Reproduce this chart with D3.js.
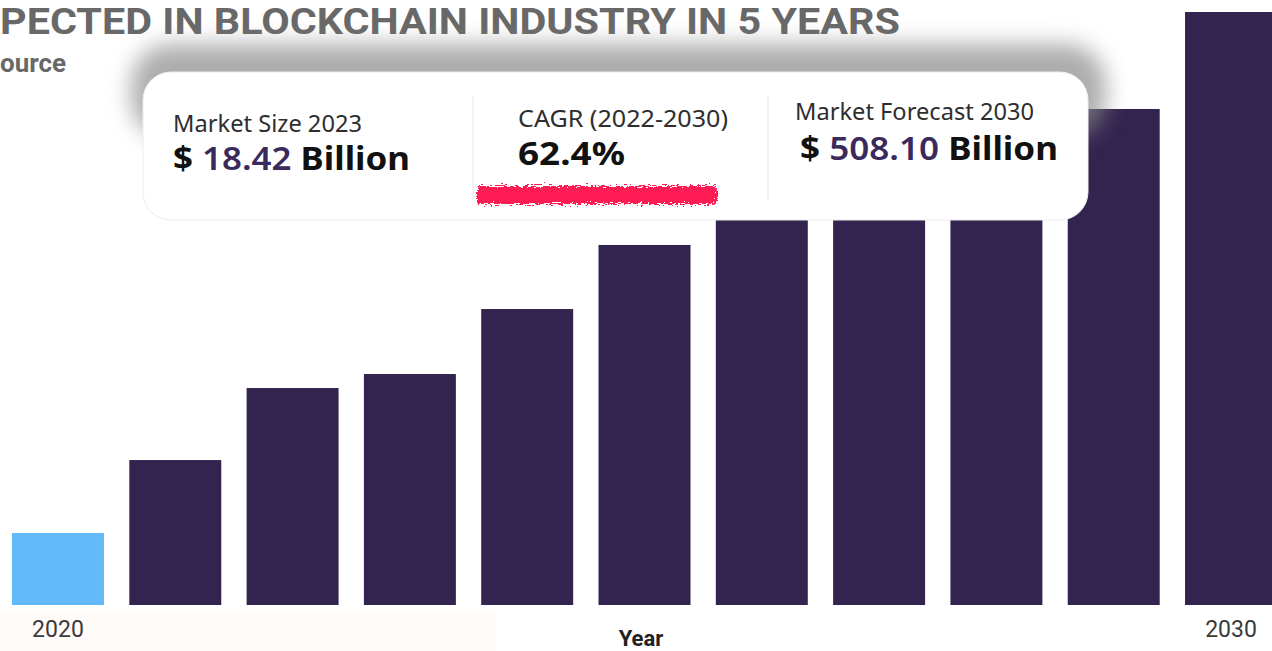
<!DOCTYPE html>
<html>
<head>
<meta charset="utf-8">
<script src="https://cdn.jsdelivr.net/npm/d3@7"></script>
<style>
  body { margin: 0; background: #ffffff; overflow: hidden; }
  svg { display: block; }
</style>
</head>
<body>
<svg id="chart" width="1272" height="651"></svg>
<script>
// years on the x axis
const years = [2020, 2021, 2022, 2023, 2024, 2025, 2026, 2027, 2028, 2029, 2030];
// market size, billions (2030 = forecast)
const marketSize = [61.7, 124.2, 185.9, 197.9, 253.6, 308.5, 355.6, 377.0, 398.4, 425.0, 508.1];
const shownTicks = [2020, 2030];

// numbers in the summary card
const cardLabels = ['Market Size 2023', 'CAGR (2022-2030)', 'Market Forecast 2030'];
const cardValues = ['18.42', '62.4%', '508.10'];

const svg = d3.select('#chart');
const plotBottom = 605, plotTop = 12;

const defs = svg.append('defs');

// blurred shadow behind card
defs.append('filter')
    .attr('id', 'cardShadow')
    .attr('x', '-20%').attr('y', '-80%')
    .attr('width', '140%').attr('height', '260%')
    .append('feGaussianBlur')
    .attr('stdDeviation', 11);

// rough marker-pen look for the red underline
const rough = defs.append('filter')
    .attr('id', 'rough')
    .attr('x', '-5%').attr('y', '-60%')
    .attr('width', '110%').attr('height', '220%');
rough.append('feTurbulence')
    .attr('type', 'fractalNoise')
    .attr('baseFrequency', '0.3 1.1')
    .attr('numOctaves', 2)
    .attr('seed', 3)
    .attr('result', 'noise');
rough.append('feDisplacementMap')
    .attr('in', 'SourceGraphic')
    .attr('in2', 'noise')
    .attr('scale', 10)
    .attr('xChannelSelector', 'R')
    .attr('yChannelSelector', 'G');

// faint warm tint at bottom left
svg.append('rect')
    .attr('x', 0).attr('y', 612)
    .attr('width', 495).attr('height', 39)
    .attr('fill', '#fefbf9');

// Title (cropped at the left edge)
svg.append('text')
    .attr('x', 0)
    .attr('y', 34)
    .attr('textLength', 900)
    .attr('lengthAdjust', 'spacingAndGlyphs')
    .style('font-family', 'Roboto')
    .style('font-weight', 'bold')
    .style('font-size', '36px')
    .attr('fill', '#686868')
    .text('PECTED IN BLOCKCHAIN INDUSTRY IN 5 YEARS');

svg.append('text')
    .attr('x', 0)
    .attr('y', 72)
    .style('font-family', 'Roboto')
    .style('font-weight', 'bold')
    .style('font-size', '26px')
    .attr('fill', '#686868')
    .text('ource');

// scales
const x = d3.scaleBand()
    .domain(years)
    .range([12, 1277])
    .paddingInner(0.216)
    .paddingOuter(0);

const y = d3.scaleLinear()
    .domain([0, d3.max(marketSize)])
    .range([plotBottom, plotTop]);

const data = years.map((yr, i) => ({ year: yr, value: marketSize[i] }));

svg.append('g')
    .selectAll('rect')
    .data(data)
    .enter()
    .append('rect')
    .attr('x', d => x(d.year))
    .attr('y', d => y(d.value))
    .attr('width', x.bandwidth())
    .attr('height', d => plotBottom - y(d.value))
    .attr('fill', (d, i) => i === 0 ? '#62bbf8' : '#33244f');

// X axis, only first and last label
const xAxis = svg.append('g')
    .attr('transform', 'translate(0,' + plotBottom + ')')
    .call(d3.axisBottom(x).tickValues(shownTicks).tickSize(0).tickPadding(16));
xAxis.select('.domain').remove();
xAxis.selectAll('text')
    .style('font-family', 'Roboto')
    .style('font-size', '23px')
    .attr('fill', '#3a3a3a');

svg.append('text')
    .attr('x', 641)
    .attr('y', 646)
    .attr('text-anchor', 'middle')
    .style('font-family', 'Roboto')
    .style('font-weight', 'bold')
    .style('font-size', '22px')
    .attr('fill', '#222')
    .text('Year');

// Summary card
const card = { x: 143, y: 72, w: 945, h: 148 };

svg.append('rect')
    .attr('x', card.x - 12)
    .attr('y', card.y - 28)
    .attr('width', card.w + 30)
    .attr('height', 95)
    .attr('rx', 40)
    .attr('fill', '#8a8a8a')
    .attr('opacity', 0.7)
    .attr('filter', 'url(#cardShadow)');

svg.append('rect')
    .attr('x', card.x)
    .attr('y', card.y)
    .attr('width', card.w)
    .attr('height', card.h)
    .attr('rx', 28)
    .attr('fill', '#ffffff')
    .attr('stroke', '#ececec')
    .attr('stroke-width', 1);

// dividers
[473, 768].forEach(dx => {
    svg.append('line')
        .attr('x1', dx).attr('x2', dx)
        .attr('y1', 96).attr('y2', 200)
        .attr('stroke', '#efefef')
        .attr('stroke-width', 1.5);
});

// label / value positions and the widths they take in the card
const cols = [
    { x: 173, ly: 132, lw: 189, vx: 173, vy: 170, vw: 237, pre: '$ ', post: ' Billion' },
    { x: 518, ly: 127, lw: 210, vx: 518, vy: 165, vw: 107, pre: '', post: '' },
    { x: 795, ly: 120, lw: 239, vx: 800, vy: 160, vw: 258, pre: '$ ', post: ' Billion' }
];

cols.forEach((c, i) => {
    svg.append('text')
        .attr('x', c.x)
        .attr('y', c.ly)
        .attr('textLength', c.lw)
        .attr('lengthAdjust', 'spacingAndGlyphs')
        .style('font-family', 'Noto Sans')
        .style('font-size', '23px')
        .attr('fill', '#2e2e2e')
        .text(cardLabels[i]);

    const t = svg.append('text')
        .attr('x', c.vx)
        .attr('y', c.vy)
        .attr('textLength', c.vw)
        .attr('lengthAdjust', 'spacingAndGlyphs')
        .style('font-family', 'Noto Sans')
        .style('font-weight', 'bold')
        .style('font-size', '33px')
        .attr('fill', '#111');
    if (c.pre) t.append('tspan').text(c.pre);
    t.append('tspan')
        .attr('fill', i === 1 ? '#111' : '#3a2a5c')
        .style('font-weight', i === 1 ? 'bold' : '600')
        .text(cardValues[i]);
    if (c.post) t.append('tspan').text(c.post);
});

// red marker stroke under CAGR
svg.append('rect')
    .attr('x', 477)
    .attr('y', 186)
    .attr('width', 240)
    .attr('height', 18)
    .attr('rx', 4)
    .attr('fill', '#ff1a55')
    .attr('filter', 'url(#rough)');
</script>
</body>
</html>
